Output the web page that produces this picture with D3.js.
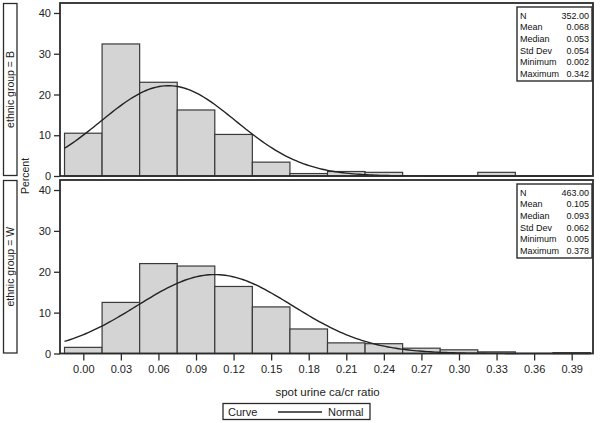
<!DOCTYPE html>
<html><head><meta charset="utf-8">
<script src="https://cdn.jsdelivr.net/npm/d3@7"></script>
<style>
html,body{margin:0;padding:0;background:#fff;}
svg{display:block;font-family:"Liberation Sans",Arial,sans-serif;}
</style></head>
<body>
<svg id="chart" width="600" height="423"></svg>
<script>
// ---- data ----
const midpoints = [0.00,0.03,0.06,0.09,0.12,0.15,0.18,0.21,0.24,0.27,0.30,0.33,0.36,0.39];
const percentB = [10.5,32.4,23.0,16.2,10.2,3.4,0.6,1.1,0.9,0,0,0.9,0,0];
const percentW = [1.5,12.5,22.0,21.4,16.4,11.4,6.0,2.6,2.4,1.3,0.9,0.4,0,0.2];
const groups = ["B","W"];
const statLabels = ["N","Mean","Median","Std Dev","Minimum","Maximum"];
const statsB = ["352.00","0.068","0.053","0.054","0.002","0.342"];
const statsW = ["463.00","0.105","0.093","0.062","0.005","0.378"];
const meanB = 0.068, sdB = 0.054;
const meanW = 0.105, sdW = 0.062;
const binWidth = 0.03;
const yTicks = [0,10,20,30,40];
const xTicks = [0.00,0.03,0.06,0.09,0.12,0.15,0.18,0.21,0.24,0.27,0.30,0.33,0.36,0.39];

// ---- layout ----
const svg = d3.select("#chart");
const frameL = 60, frameR = 593;
const panels = [
  {name:groups[0], top:3, bottom:176, data:percentB, stats:statsB, mean:meanB, sd:sdB},
  {name:groups[1], top:180, bottom:353.5, data:percentW, stats:statsW, mean:meanW, sd:sdW}
];
const x = d3.scaleLinear().domain([0,0.39]).range([83.3,571.7]);
const ink = "#2b2b2b";

panels.forEach((p,pi)=>{
  const y = d3.scaleLinear().domain([0,42.45]).range([p.bottom,p.top]);
  const g = svg.append("g");

  // row header box
  g.append("rect").attr("x",3.5).attr("y",p.top+0.5).attr("width",13.5).attr("height",p.bottom-p.top-1)
    .attr("fill","#fff").attr("stroke",ink).attr("stroke-width",1.3);
  g.append("text").attr("transform",`translate(14,${(p.top+p.bottom)/2}) rotate(-90)`)
    .attr("text-anchor","middle").attr("font-size",10.5).attr("fill","#222")
    .text("ethnic group = "+p.name);

  // bars
  g.selectAll("rect.bar").data(midpoints.map((m,i)=>({m,v:p.data[i]})).filter(d=>d.v>0))
    .enter().append("rect").attr("class","bar")
    .attr("x",d=>x(d.m-binWidth/2)).attr("width",d=>x(d.m+binWidth/2)-x(d.m-binWidth/2))
    .attr("y",d=>y(d.v)).attr("height",d=>y(0)-y(d.v))
    .attr("fill","#d4d4d4").attr("stroke","#3a3a3a").attr("stroke-width",1.2);

  // normal curve
  const xs = d3.range(0,201).map(i=>-0.015+i*(0.42/200));
  const dens = v => 100*binWidth/(p.sd*Math.sqrt(2*Math.PI))*Math.exp(-0.5*Math.pow((v-p.mean)/p.sd,2));
  g.append("path").datum(xs)
    .attr("d",d3.line().x(v=>x(v)).y(v=>y(dens(v))).curve(d3.curveLinear))
    .attr("fill","none").attr("stroke","#222").attr("stroke-width",1.4);

  // frame
  g.append("rect").attr("x",frameL).attr("y",p.top).attr("width",frameR-frameL).attr("height",p.bottom-p.top)
    .attr("fill","none").attr("stroke",ink).attr("stroke-width",1.8);

  // y axis
  const ya = g.append("g").attr("transform",`translate(${frameL},0)`)
    .call(d3.axisLeft(y).tickValues(yTicks).tickSize(6).tickPadding(3).tickFormat(d3.format("d")));
  ya.select(".domain").remove();
  ya.selectAll("line").attr("stroke",ink).attr("stroke-width",1.3);
  ya.selectAll("text").attr("font-size",11).attr("fill","#222").attr("font-family","Liberation Sans, Arial, sans-serif");

  // stats box
  const bx = 517, bw = 75, by = p.top+4, bh = 74;
  g.append("rect").attr("x",bx).attr("y",by).attr("width",bw).attr("height",bh)
    .attr("fill","#fff").attr("stroke",ink).attr("stroke-width",1.4);
  statLabels.forEach((lab,i)=>{
    g.append("text").attr("x",bx+3).attr("y",by+11.5+i*11.7).attr("font-size",9).attr("fill","#111").text(lab);
    g.append("text").attr("x",bx+bw-3).attr("y",by+11.5+i*11.7).attr("font-size",9).attr("fill","#111")
      .attr("text-anchor","end").text(p.stats[i]);
  });

  if(pi===1){
    const xa = g.append("g").attr("transform",`translate(0,${p.bottom})`)
      .call(d3.axisBottom(x).tickValues(xTicks).tickSize(7).tickPadding(5).tickFormat(d3.format(".2f")));
    xa.select(".domain").remove();
    xa.selectAll("line").attr("stroke",ink).attr("stroke-width",1.3);
    xa.selectAll("text").attr("font-size",11).attr("fill","#222").attr("font-family","Liberation Sans, Arial, sans-serif");
  }
});

// Percent label
svg.append("text").attr("transform","translate(29,176) rotate(-90)").attr("text-anchor","middle")
  .attr("font-size",10.5).attr("fill","#222").text("Percent");

// x label
svg.append("text").attr("x",(frameL+frameR)/2+1).attr("y",396).attr("text-anchor","middle")
  .attr("font-size",11.5).attr("fill","#222").text("spot urine ca/cr ratio");

// legend
const lg = svg.append("g");
lg.append("rect").attr("x",223).attr("y",403.5).attr("width",147).attr("height",16)
  .attr("fill","#fff").attr("stroke",ink).attr("stroke-width",1.3);
lg.append("text").attr("x",228).attr("y",416).attr("font-size",11).attr("fill","#222").text("Curve");
lg.append("line").attr("x1",278).attr("x2",322).attr("y1",412).attr("y2",412).attr("stroke","#222").attr("stroke-width",1.3);
lg.append("text").attr("x",328).attr("y",416).attr("font-size",11).attr("fill","#222").text("Normal");
</script>
</body></html>
